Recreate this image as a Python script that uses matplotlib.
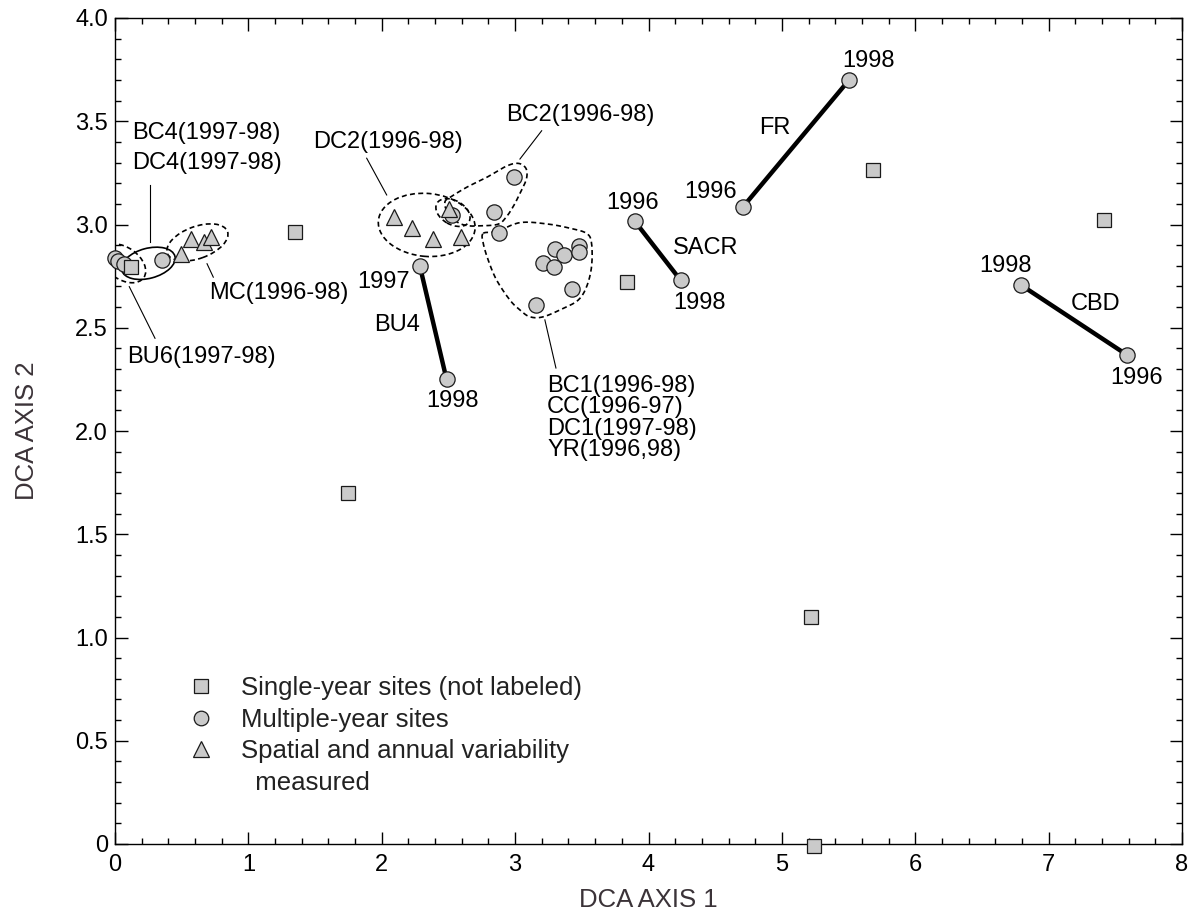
import matplotlib
matplotlib.use("Agg")
import matplotlib.pyplot as plt
import numpy as np
from matplotlib.patches import Ellipse
from matplotlib.lines import Line2D
from matplotlib.transforms import ScaledTranslation
from matplotlib.ticker import MultipleLocator, FuncFormatter

plt.rcParams['font.family'] = ['Liberation Sans', 'DejaVu Sans']

# single-year sites (squares)
single_x = [0.12, 1.35, 1.75, 3.84, 5.22, 5.24, 5.683, 7.413]
single_y = [2.795, 2.965, 1.70, 2.72, 1.10, -0.01, 3.266, 3.024]

# multiple-year sites in the clusters (circles)
multi_x = [0.0, 0.025, 0.07, 0.35,
           2.529, 2.993, 2.843, 2.878, 3.296, 3.369, 3.478, 3.478,
           3.21, 3.293, 3.428, 3.16]
multi_y = [2.84, 2.825, 2.81, 2.83,
           3.046, 3.228, 3.06, 2.957, 2.88, 2.852, 2.897, 2.868,
           2.815, 2.795, 2.688, 2.61]

# spatial and annual variability measured (triangles)
tri_x = [0.495, 0.567, 0.667, 0.72, 2.094, 2.229, 2.384, 2.594, 2.504]
tri_y = [2.857, 2.93, 2.915, 2.94, 3.038, 2.982, 2.928, 2.94, 3.074]

# sites with a trend between years
bu4_x, bu4_y = [2.286, 2.486], [2.798, 2.25]
sacr_x, sacr_y = [3.898, 4.242], [3.015, 2.729]
fr_x, fr_y = [4.708, 5.504], [3.085, 3.70]
cbd_x, cbd_y = [6.79, 7.586], [2.708, 2.369]

# outlines of the BC2 and BC1 groups
bc2_x = [2.511, 2.636, 2.786, 2.936, 3.024, 3.081, 3.086, 3.049, 2.999,
         2.936, 2.874, 2.761, 2.648, 2.561, 2.486, 2.474]
bc2_y = [3.131, 3.180, 3.228, 3.283, 3.296, 3.272, 3.224, 3.167, 3.102,
         3.038, 3.002, 2.994, 2.994, 3.014, 3.070, 3.110]
bc1_x = [2.761, 2.861, 3.036, 3.236, 3.411, 3.536, 3.573, 3.573, 3.536,
         3.473, 3.361, 3.211, 3.111, 3.036, 2.961, 2.861, 2.798, 2.761]
bc1_y = [2.957, 2.966, 3.009, 3.003, 2.982, 2.957, 2.909, 2.796, 2.699,
         2.634, 2.594, 2.553, 2.553, 2.586, 2.634, 2.731, 2.828, 2.909]

fill = '#cacaca'
edge = '#1a1a1a'


def closed_curve(xs, ys, n=24):
    p = np.column_stack([xs, ys])
    k = len(p)
    t = np.linspace(0, 1, n, endpoint=False)[:, None]
    segs = []
    for i in range(k):
        p0, p1, p2, p3 = p[i - 1], p[i], p[(i + 1) % k], p[(i + 2) % k]
        segs.append(0.5 * (2 * p1 + (p2 - p0) * t
                           + (2 * p0 - 5 * p1 + 4 * p2 - p3) * t ** 2
                           + (3 * p1 - p0 - 3 * p2 + p3) * t ** 3))
    c = np.vstack(segs + [segs[0][:1]])
    return c[:, 0], c[:, 1]


fig = plt.figure(figsize=(11.91, 9.14), dpi=100)
ax = fig.add_axes([115 / 1191, 1 - 844 / 914, 1067 / 1191, 826 / 914])


def oval(cx, cy, w, h, angle, ls):
    # w, h in pixels at 100 dpi, centred on a data point
    tr = fig.dpi_scale_trans + ScaledTranslation(cx, cy, ax.transData)
    ax.add_patch(Ellipse((0, 0), w / 100, h / 100, angle=angle, transform=tr,
                         fill=False, ec='black', lw=1.2, ls=ls, zorder=1))


dash = (0, (3, 2))
oval(0.062, 2.812, 50, 32, -35, dash)
oval(0.25, 2.812, 55, 30, 15, '-')
oval(0.618, 2.913, 64, 32, 20, dash)
oval(2.337, 2.998, 97, 63, -5, dash)
oval(2.534, 3.058, 37, 24, -30, dash)

for xs, ys in [(bc2_x, bc2_y), (bc1_x, bc1_y)]:
    cx, cy = closed_curve(xs, ys)
    ax.plot(cx, cy, color='black', lw=1.2, ls=dash, zorder=1)

# lead lines
leads = [((0.262, 0.262), (3.191, 2.917)),
         ((0.69, 0.737), (2.81, 2.745)),
         ((0.107, 0.30), (2.699, 2.449)),
         ((1.887, 2.037), (3.321, 3.143)),
         ((3.199, 3.036), (3.454, 3.317)),
         ((3.223, 3.306), (2.538, 2.305))]
for lx, ly in leads:
    ax.plot(lx, ly, color='black', lw=0.8, zorder=1)

for xs, ys in [(bu4_x, bu4_y), (sacr_x, sacr_y), (fr_x, fr_y), (cbd_x, cbd_y)]:
    ax.plot(xs, ys, color='black', lw=3.2, solid_capstyle='butt', zorder=2)
    ax.plot(xs, ys, 'o', ms=11, mfc=fill, mec=edge, mew=0.9, zorder=3)

ax.plot(multi_x, multi_y, 'o', ms=11, mfc=fill, mec=edge, mew=0.9,
        zorder=3, clip_on=False)
ax.plot(single_x, single_y, 's', ms=10.5, mfc=fill, mec=edge, mew=0.9,
        zorder=4, clip_on=False)
ax.plot(tri_x, tri_y, '^', ms=11.5, mfc=fill, mec=edge, mew=0.9, zorder=5)

fs = 17
labels = [
    (0.125, 3.442, 'BC4(1997-98)', 'left'),
    (0.125, 3.296, 'DC4(1997-98)', 'left'),
    (0.707, 2.667, 'MC(1996-98)', 'left'),
    (0.088, 2.36, 'BU6(1997-98)', 'left'),
    (2.611, 3.401, 'DC2(1996-98)', 'right'),
    (2.936, 3.53, 'BC2(1996-98)', 'left'),
    (2.211, 2.723, '1997', 'right'),
    (2.286, 2.513, 'BU4', 'right'),
    (2.531, 2.145, '1998', 'center'),
    (3.24, 2.22, 'BC1(1996-98)', 'left'),
    (3.24, 2.116, 'CC(1996-97)', 'left'),
    (3.24, 2.01, 'DC1(1997-98)', 'left'),
    (3.24, 1.91, 'YR(1996,98)', 'left'),
    (3.881, 3.102, '1996', 'center'),
    (4.185, 2.885, 'SACR', 'left'),
    (4.385, 2.618, '1998', 'center'),
    (4.948, 3.468, 'FR', 'center'),
    (4.462, 3.156, '1996', 'center'),
    (5.646, 3.79, '1998', 'center'),
    (6.678, 2.798, '1998', 'center'),
    (7.353, 2.613, 'CBD', 'center'),
    (7.656, 2.258, '1996', 'center'),
]
for tx, ty, s, ha in labels:
    ax.text(tx, ty, s, ha=ha, va='center', fontsize=fs, color='black', zorder=6)

# legend
h_sq = Line2D([], [], ls='none', marker='s', ms=10, mfc=fill, mec=edge, mew=0.9)
h_ci = Line2D([], [], ls='none', marker='o', ms=10.5, mfc=fill, mec=edge, mew=0.9)
h_tr = Line2D([], [], ls='none', marker='^', ms=11, mfc=fill, mec=edge, mew=0.9)
h_no = Line2D([], [], ls='none', marker='none')
leg = ax.legend([h_sq, h_ci, h_tr, h_no],
                ['Single-year sites (not labeled)', 'Multiple-year sites',
                 'Spatial and annual variability', '  measured'],
                loc='upper left', bbox_to_anchor=(188 / 1191, 1 - 676 / 914),
                bbox_transform=fig.transFigure, frameon=False, fontsize=18.5,
                handlelength=1.0, handletextpad=1.05, labelspacing=0.3,
                borderpad=0, borderaxespad=0)
for t in leg.get_texts():
    t.set_color('#222222')

ax.set_xlim(0, 8)
ax.set_ylim(0, 4.0)
ax.xaxis.set_major_locator(MultipleLocator(1))
ax.xaxis.set_minor_locator(MultipleLocator(0.2))
ax.yaxis.set_major_locator(MultipleLocator(0.5))
ax.yaxis.set_minor_locator(MultipleLocator(0.1))
ax.yaxis.set_major_formatter(FuncFormatter(lambda v, p: '0' if v == 0 else '%.1f' % v))
ax.tick_params(which='both', direction='in', top=True, right=True, width=1.0)
ax.tick_params(which='major', length=9, labelsize=17)
ax.tick_params(axis='x', which='major', pad=7)
ax.tick_params(axis='y', which='major', pad=5)
ax.tick_params(which='minor', length=4.5)
for sp in ax.spines.values():
    sp.set_linewidth(1.0)

ax.set_xlabel('DCA AXIS 1', fontsize=18.5, color='#3b3338', labelpad=9)
ax.set_ylabel('DCA AXIS 2', fontsize=18.5, color='#3b3338', labelpad=26)

fig.savefig('out.png', dpi=100)
